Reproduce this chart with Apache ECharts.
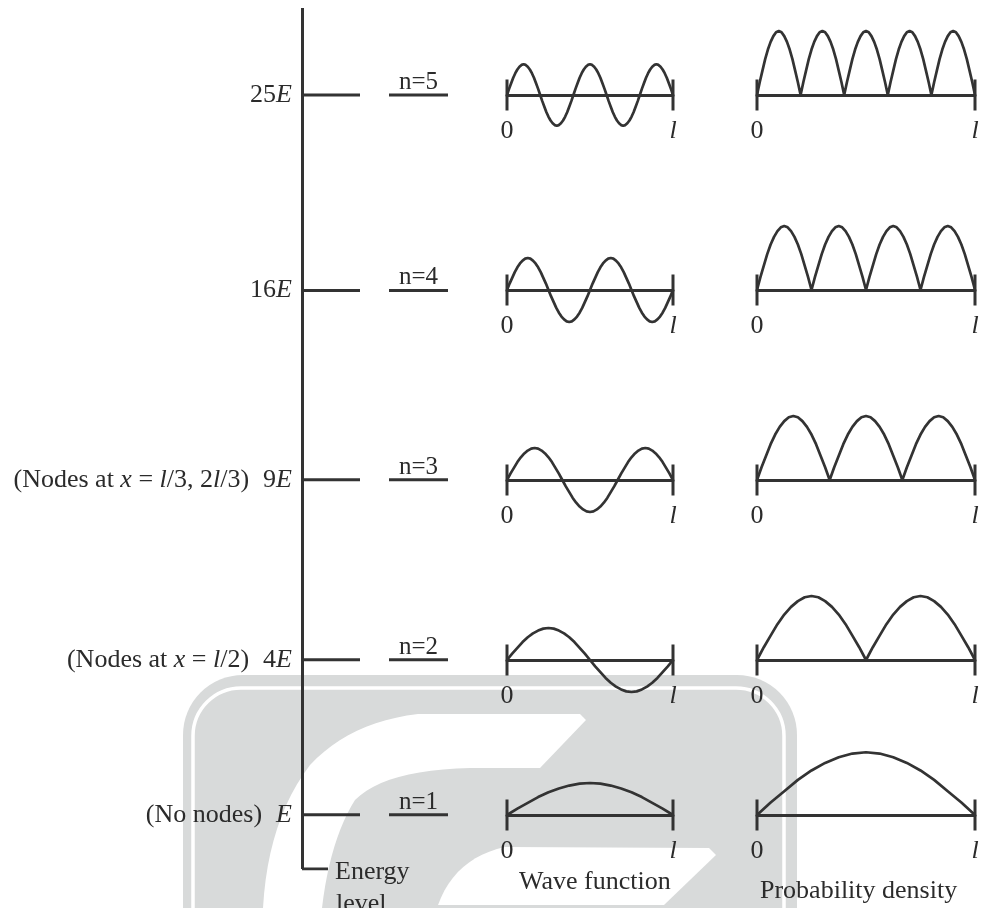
<!DOCTYPE html>
<html><head><meta charset="utf-8">
<script src="https://cdn.jsdelivr.net/npm/echarts@6/dist/echarts.min.js"></script>
<style>html,body{margin:0;padding:0;background:#fff}#c{width:983px;height:908px}</style>
</head><body><div id="c"></div>
<script>
// ---------------- data ----------------
const quantumN = [1, 2, 3, 4, 5];
const energyLabels = ['E', '4E', '9E', '16E', '25E'];
const nodeNotes = ['(No nodes)', '(Nodes at x = l/2)', '(Nodes at x = l/3, 2l/3)', '', ''];
// height of each level on the energy axis (0 = bottom of axis, 100 = top)
const levelPos = [6.3, 24.3, 45.2, 67.2, 89.9];
// shape of one half-wave lobe (node -> crest -> node)
const lobeProfile = [0, 0.2, 0.38, 0.56, 0.71, 0.83, 0.92, 0.98, 1, 0.98, 0.92, 0.83, 0.71, 0.56, 0.38, 0.2, 0];
const waveSigns = [1, -1, 1, -1, 1];
const waveAmp = [1, 1, 1, 1, 0.96];
const densityAmp = [0.98, 1, 1, 1, 1];
const axisEndValues = [0, 1];
const axisEndLabels = ['0', 'l'];
const captionEnergy = ['Energy', 'level'];
const captionWave = 'Wave function';
const captionDensity = 'Probability density';

// ---------------- styling / layout ----------------
const INK = '#333333';
const TXT = '#2b2b2b';
const FONT = '"Liberation Serif", "Times New Roman", serif';
const FS = 26;
const E_LEFT = 302, E_TOP = 8, E_H = 861, E_W = 146;
const W_LEFT = 507, W_W = 166, W_HALF = 32;
const D_LEFT = 757, D_W = 218, D_H = 64;
const LEVEL_END = 58 / 146, NLINE_START = 87 / 146, NLINE_MID = (1 + 87 / 146) / 2, HOOK_END = 26 / 146;

const richBase = {
  r: { fontFamily: FONT, fontSize: FS, color: TXT },
  i: { fontFamily: FONT, fontSize: FS, color: TXT, fontStyle: 'italic' },
  g: { fontFamily: FONT, fontSize: FS, width: 14 }
};

function italicize(s) {
  let out = '', run = '', cls = null;
  const flush = () => { if (run) out += '{' + cls + '|' + run + '}'; run = ''; };
  for (const ch of s) {
    const c = 'xlE'.includes(ch) ? 'i' : 'r';
    if (c !== cls) { flush(); cls = c; }
    run += ch;
  }
  flush();
  return out;
}

function lobes(n, signs, amp) {
  const pts = [];
  for (let k = 0; k < n; k++) {
    for (let j = (k === 0 ? 0 : 1); j < lobeProfile.length; j++) {
      pts.push([(k + j / (lobeProfile.length - 1)) / n, signs[k] * lobeProfile[j] * amp]);
    }
  }
  return pts;
}

const baseY = levelPos.map(p => Math.round(E_TOP + E_H * (1 - p / 100)));

const grids = [{ left: E_LEFT, top: E_TOP, width: E_W, height: E_H, outerBoundsMode: 'none', containLabel: false }];
const xAxes = [{ gridIndex: 0, type: 'value', min: 0, max: 1, show: false }];
const yAxes = [{
  gridIndex: 0, type: 'value', min: 0, max: 100,
  axisLine: { show: true, lineStyle: { color: INK, width: 3, cap: 'butt' } },
  axisTick: { show: false }, splitLine: { show: false },
  axisLabel: {
    show: true, margin: 10, customValues: levelPos,
    formatter: function (v) {
      const i = levelPos.indexOf(v);
      if (i < 0) return '';
      const note = nodeNotes[i] ? italicize(nodeNotes[i]) + '{g| }' : '';
      return note + italicize(energyLabels[i]);
    },
    rich: richBase
  }
}];

const endLabelFmt = v => { const i = axisEndValues.indexOf(v); return i === 1 ? '{i|' + axisEndLabels[1] + '}' : '{r|' + axisEndLabels[0] + '}'; };
function plotXAxis(gi) {
  return {
    gridIndex: gi, type: 'value', min: 0, max: 1, position: 'bottom',
    axisLine: { show: true, onZero: false, lineStyle: { color: INK, width: 3 } },
    axisTick: { show: false }, splitLine: { show: false },
    axisLabel: { show: true, customValues: axisEndValues, margin: 23, formatter: endLabelFmt, rich: richBase }
  };
}
function hiddenYAxis(gi, min, max) {
  return { gridIndex: gi, type: 'value', min: min, max: max, show: false };
}

const series = [];
const lineStyleBase = { color: INK, width: 3, cap: 'butt' };

// energy-level diagram
levelPos.forEach((p, i) => {
  series.push({ type: 'line', xAxisIndex: 0, yAxisIndex: 0, data: [[0, p], [LEVEL_END, p]], showSymbol: false, lineStyle: lineStyleBase, silent: true });
  series.push({ type: 'line', xAxisIndex: 0, yAxisIndex: 0, data: [[NLINE_START, p], [1, p]], showSymbol: false, lineStyle: lineStyleBase, silent: true });
  series.push({
    type: 'scatter', xAxisIndex: 0, yAxisIndex: 0, data: [[NLINE_MID, p]], symbolSize: 0, silent: true,
    itemStyle: { opacity: 1 },
    label: { show: true, position: 'top', distance: 0, formatter: 'n=' + quantumN[i], fontFamily: FONT, fontSize: 25, color: TXT, opacity: 1 }
  });
});
series.push({ type: 'line', xAxisIndex: 0, yAxisIndex: 0, data: [[0, 0], [HOOK_END, 0]], showSymbol: false, lineStyle: lineStyleBase, silent: true });

// wave function + probability density plots
quantumN.forEach((n, i) => {
  const wg = grids.length;
  // wave grid spans from crest line down to the baseline; troughs are drawn below it (clip off)
  grids.push({ left: W_LEFT, top: baseY[i] - W_HALF, width: W_W, height: W_HALF, outerBoundsMode: 'none', containLabel: false });
  xAxes.push(plotXAxis(wg));
  yAxes.push(hiddenYAxis(wg, 0, 1));
  series.push({ type: 'line', xAxisIndex: wg, yAxisIndex: wg, data: lobes(n, waveSigns, waveAmp[i]), showSymbol: false, smooth: false, clip: false, lineStyle: { color: INK, width: 2.7 }, silent: true, z: 4 });
  series.push({ type: 'scatter', xAxisIndex: wg, yAxisIndex: wg, data: axisEndValues.map(x => [x, 0]), symbol: 'rect', symbolSize: [3, 31], clip: false, itemStyle: { color: INK, opacity: 1 }, silent: true, z: 5 });

  const dg = grids.length;
  grids.push({ left: D_LEFT, top: baseY[i] - D_H, width: D_W, height: D_H, outerBoundsMode: 'none', containLabel: false });
  xAxes.push(plotXAxis(dg));
  yAxes.push(hiddenYAxis(dg, 0, 1));
  series.push({ type: 'line', xAxisIndex: dg, yAxisIndex: dg, data: lobes(n, [1, 1, 1, 1, 1], densityAmp[i]), showSymbol: false, smooth: false, clip: false, lineStyle: { color: INK, width: 2.7 }, silent: true, z: 4 });
  series.push({ type: 'scatter', xAxisIndex: dg, yAxisIndex: dg, data: axisEndValues.map(x => [x, 0]), symbol: 'rect', symbolSize: [3, 31], clip: false, itemStyle: { color: INK, opacity: 1 }, silent: true, z: 5 });
});

// watermark (decoration) as polygons sampled from simple outlines
function outline(cmds) {
  const pts = []; let cur = null;
  cmds.forEach(c => {
    if (c[0] === 'M' || c[0] === 'L') { cur = [c[1], c[2]]; pts.push(cur); }
    else if (c[0] === 'Q') {
      const p0 = cur, cx = c[1], cy = c[2], ex = c[3], ey = c[4];
      for (let k = 1; k <= 12; k++) {
        const t = k / 12, a = (1 - t) * (1 - t), b = 2 * t * (1 - t), d = t * t;
        pts.push([a * p0[0] + b * cx + d * ex, a * p0[1] + b * cy + d * ey]);
      }
      cur = [ex, ey];
    }
  });
  return pts;
}
const upperSwoosh = outline([['M', 418, 714], ['L', 580, 714], ['L', 586, 720], ['L', 540, 768], ['L', 470, 768], ['Q', 385, 770, 355, 800], ['Q', 330, 840, 322, 908], ['L', 263, 908], ['Q', 268, 820, 310, 765], ['Q', 350, 722, 418, 714]]);
const lowerSwoosh = outline([['M', 505, 847], ['L', 709, 848], ['L', 716, 855], ['L', 664, 905], ['L', 438, 905], ['Q', 455, 858, 505, 847]]);

const GRAY = '#d8dada';
const graphic = [
  { type: 'rect', z: -20, silent: true, shape: { x: 183, y: 675, width: 614, height: 320, r: 60 }, style: { fill: GRAY } },
  { type: 'rect', z: -19, silent: true, shape: { x: 193, y: 688, width: 591, height: 320, r: 48 }, style: { fill: 'none', stroke: '#ffffff', lineWidth: 3.5 } },
  { type: 'polygon', z: -19, silent: true, shape: { points: upperSwoosh }, style: { fill: '#ffffff' } },
  { type: 'polygon', z: -19, silent: true, shape: { points: lowerSwoosh }, style: { fill: '#ffffff' } },
  { type: 'text', z: 10, silent: true, style: { text: captionEnergy[0], x: 335, y: 872, font: FS + 'px ' + FONT, fill: TXT, verticalAlign: 'middle', textVerticalAlign: 'middle' } },
  { type: 'text', z: 10, silent: true, style: { text: captionEnergy[1], x: 336, y: 904, font: FS + 'px ' + FONT, fill: TXT, verticalAlign: 'middle', textVerticalAlign: 'middle' } },
  { type: 'text', z: 10, silent: true, style: { text: captionWave, x: 519, y: 882, font: FS + 'px ' + FONT, fill: TXT, verticalAlign: 'middle', textVerticalAlign: 'middle' } },
  { type: 'text', z: 10, silent: true, style: { text: captionDensity, x: 760, y: 891, font: FS + 'px ' + FONT, fill: TXT, verticalAlign: 'middle', textVerticalAlign: 'middle' } }
];

const chart = echarts.init(document.getElementById('c'), null, { renderer: 'canvas' });
chart.setOption({
  backgroundColor: '#ffffff',
  animation: false,
  grid: grids, xAxis: xAxes, yAxis: yAxes, series: series, graphic: graphic
});
</script></body></html>
